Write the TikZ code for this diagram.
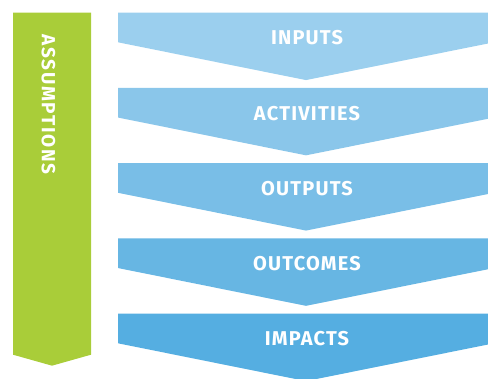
\documentclass[tikz,border=0pt]{standalone}
\usepackage{fontspec}
\setmainfont{Fira Sans}
\newfontfamily\lblfont[LetterSpace=6]{Fira Sans}
\newfontfamily\assfont[LetterSpace=9]{Fira Sans}
\definecolor{cA}{HTML}{9BCFEE}
\definecolor{cB}{HTML}{8AC6EA}
\definecolor{cC}{HTML}{79BEE7}
\definecolor{cD}{HTML}{67B6E3}
\definecolor{cE}{HTML}{55AEE1}
\definecolor{cG}{HTML}{A9CD39}
\begin{document}
\begin{tikzpicture}[x=1pt,y=-1pt,
  lbl/.style={text=white,font=\lblfont\bfseries\fontsize{20}{20}\selectfont,inner sep=0pt}]
\useasboundingbox (0,0) rectangle (488,379);
\begin{scope}
\clip (0,0) rectangle (488,379);
\foreach \i/\c in {0/cA,1/cB,2/cC,3/cD,4/cE}{
  \pgfmathsetmacro{\t}{12.7+75.25*\i}
  \fill[\c] (118,\t) -- (494,\t) -- (494,\t+29.6) -- (306,\t+67.4) -- (118,\t+29.6) -- cycle;
}
\end{scope}
\fill[cG] (13,12.7) -- (91,12.7) -- (91,354.7) -- (52,365.7) -- (13,354.7) -- cycle;
\node[lbl] (inp) at (307,38) {INPUTS};
\node[lbl] (act) at (307,113.3) {ACTIVITIES};
\node[lbl] (outp) at (307,188.5) {OUTPUTS};
\node[lbl] (outc) at (307,263.8) {OUTCOMES};
\node[lbl] (imp) at (307,339) {IMPACTS};
\node[lbl,font=\assfont\bfseries\fontsize{19}{19}\selectfont,rotate=-90] (ass) at (48.4,104.5) {ASSUMPTIONS};
\end{tikzpicture}
\end{document}
